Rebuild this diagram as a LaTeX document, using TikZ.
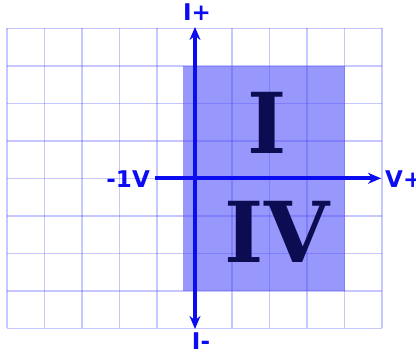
\documentclass[tikz,border=0pt]{standalone}
\usepackage{fontspec}
\setmainfont{DejaVu Serif}
\newfontfamily\labelfont{DejaVu Sans}
\usetikzlibrary{arrows.meta, positioning}
\definecolor{gridblue}{RGB}{70,70,255}
\definecolor{shadeblue}{RGB}{152,152,252}
\definecolor{axisblue}{RGB}{12,12,240}
\definecolor{romannavy}{RGB}{12,12,82}
\tikzset{
    gridline/.style={draw=gridblue, draw opacity=0.3, line width=1.5pt},
    shadebox/.style={fill=shadeblue},
    axisline/.style={line width=4pt, draw=axisblue,
                     >={Stealth[length=13pt, width=11pt]}},
    axislabel/.style={font=\labelfont\bfseries\fontsize{23}{23}\selectfont,
                      text=axisblue, inner sep=1pt},
    quadrant/.style={font=\bfseries\fontsize{84}{84}\selectfont,
                     text=romannavy, inner sep=0pt},
}

\begin{document}
\begin{tikzpicture}[x=1pt, y=-1pt]

    \useasboundingbox (0,0) rectangle (416,357);

    % ── SHADED REGION ──
    \fill[shadebox] (183,66) rectangle (345,291);

    % ── GRID ──
    \foreach \i in {0,...,10}
        \draw[gridline] ({7+37.5*\i},28.3) -- ({7+37.5*\i},328.3);
    \foreach \j in {0,...,8}
        \draw[gridline] (7,{28.3+37.5*\j}) -- (382,{28.3+37.5*\j});

    % ── AXES ──
    \coordinate (itop) at (195,27);
    \coordinate (ibot) at (195,329);
    \coordinate (vleft) at (155,178.3);
    \coordinate (vright) at (381,178.3);

    \draw[axisline, <->] (ibot) -- (itop);
    \draw[axisline, ->] (vleft) -- (vright);

    % ── LABELS ──
    \node[axislabel, above=5pt of itop, xshift=2pt] (iplus) {I+};
    \node[axislabel, below=3pt of ibot, xshift=6pt] (iminus) {I-};
    \node[axislabel, left=4pt of vleft, yshift=-1pt] (vminus) {-1V};
    \node[axislabel, right=3pt of vright, yshift=-1pt] (vplus) {V+};

    % ── QUADRANTS ──
    \node[quadrant] (qone) at (267,123) {I};
    \node[quadrant] (qfour) at (277,232) {IV};

\end{tikzpicture}
\end{document}
